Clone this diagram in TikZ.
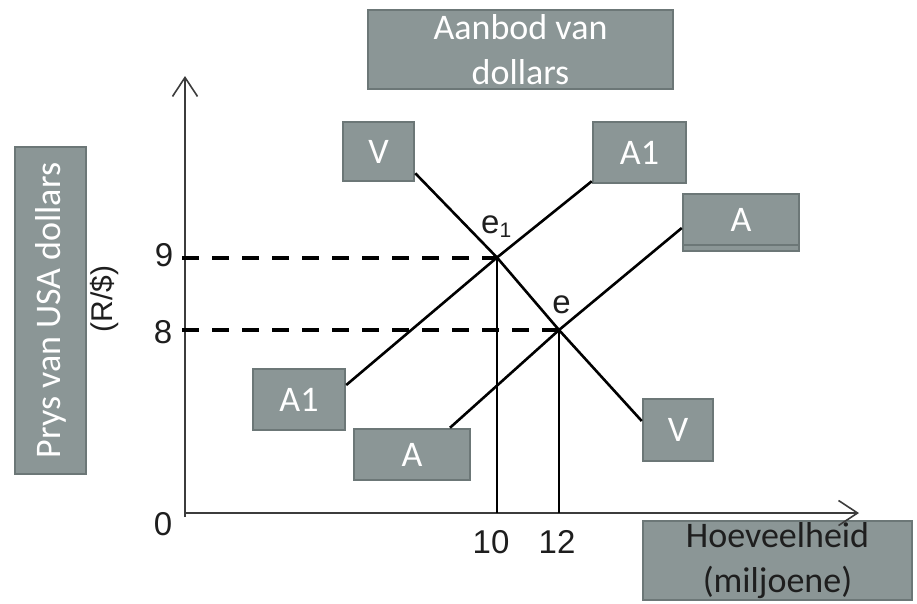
\documentclass[tikz,border=0pt]{standalone}
\usepackage{fontspec}
\setmainfont{Carlito}
\newfontfamily\arialf{Liberation Sans}
\usetikzlibrary{arrows.meta}
\definecolor{boxfill}{RGB}{139,150,150}
\definecolor{boxline}{RGB}{108,119,119}
\definecolor{axisgray}{RGB}{60,60,60}
\definecolor{textdark}{RGB}{30,30,30}
\begin{document}
\begin{tikzpicture}[x=1pt,y=-1pt,
  gbox/.style={draw=boxline, line width=2.5pt, fill=boxfill, text=white, inner sep=0pt,
    font=\fontsize{36}{45}\selectfont},
  lab/.style={inner sep=0pt, text=textdark, font=\arialf\fontsize{33}{38}\selectfont},
  axisln/.style={draw=axisgray, line width=1.6pt},
  curve/.style={draw=black, line width=2.6pt},
  dashln/.style={draw=black, line width=4pt, dash pattern=on 17pt off 13pt},
  barb/.style={-{Straight Barb[length=19pt,width=25pt]}}]
\useasboundingbox (0,0) rectangle (917,603);
% boxes
\node[gbox, minimum width=305pt, minimum height=79pt, align=center] (title) at (520.5,49.5) {Aanbod van\\dollars};
\node[gbox, minimum width=71pt, minimum height=59pt] (Vup) at (378.5,151.5) {V};
\node[gbox, minimum width=93pt, minimum height=61pt] (A1up) at (639.5,152.5) {A1};
\node[gbox, minimum width=116pt, minimum height=57pt] (Aupback) at (741,222.5) {};
\node[gbox, minimum width=116pt, minimum height=51pt] (Aup) at (741,219.5) {A};
\node[gbox, minimum width=92pt, minimum height=61pt] (A1dn) at (299,399.5) {A1};
\node[gbox, minimum width=116pt, minimum height=51pt] (Adn) at (412,454.5) {A};
\node[gbox, minimum width=70pt, minimum height=62pt] (Vdn) at (678,430) {V};
\node[gbox, text=textdark, minimum width=269pt, minimum height=79pt, align=center] (hoev) at (777.5,560.5) {Hoeveelheid\\(miljoene)};
\node[gbox, rotate=90, minimum width=327pt, minimum height=71pt] (prys) at (50.5,310.5) {Prys van USA dollars};
% axes
\coordinate (ybot) at (185,517);
\coordinate (O) at (185,513);
\coordinate (ytop) at (185,76);
\coordinate (xend) at (859,513);
\draw[axisln, barb] (ybot) -- (ytop);
\draw[axisln, barb] (O) -- (xend);
% equilibrium points
\coordinate (e1) at (497,257.5);
\coordinate (e) at (559,330);
\coordinate (y9) at (182,257.5);
\coordinate (y8) at (182,330);
\coordinate (x10) at (497,513);
\coordinate (x12) at (559,513);
\draw[dashln] (y9) -- (e1);
\draw[dashln] (y8) -- (e);
\draw[curve] (e1) -- (x10);
\draw[curve] (e) -- (x12);
\draw[curve] ([yshift=9pt]Vup.south east) -- (e1) -- (e) -- ([yshift=9pt]Vdn.west);
\draw[curve] ([yshift=14.5pt]A1dn.east) -- (e1) -- ([yshift=3pt]A1up.south west);
\draw[curve] ([xshift=38pt]Adn.north) -- (e) -- ([yshift=-8.5pt]Aup.west);
% labels
\node[lab] (n9) at (164,255) {9};
\node[lab] (n8) at (163,332) {8};
\node[lab] (n0) at (163,524) {0};
\node[lab] (n10) at (491,542) {10};
\node[lab] (n12) at (557,542) {12};
\node[lab, anchor=base west] (le1) at (481,233) {e\raisebox{-4pt}{\fontsize{21}{21}\selectfont 1}};
\node[lab, anchor=base] (le) at (561.5,313) {e};
\node[lab, rotate=90, font=\arialf\fontsize{30}{36}\selectfont] (rs) at (104.5,299) {(R/\$)};
\end{tikzpicture}
\end{document}
